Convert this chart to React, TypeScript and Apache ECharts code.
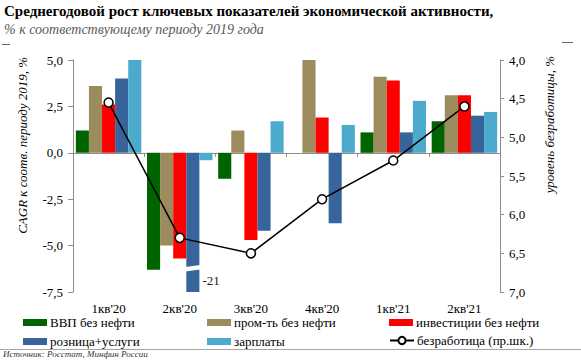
import React, { useEffect, useRef } from "react";
import * as echarts from "echarts";

// ---- data ----
const categories = ["1кв'20", "2кв'20", "3кв'20", "4кв'20", "1кв'21", "2кв'21"];
const gdpExOil = [1.2, -6.3, -1.4, null, 1.1, 1.7];
const industryExOil = [3.6, -5.0, 1.2, 5.0, 4.1, 3.1];
const investmentExOil = [2.6, -5.7, -4.7, 1.9, 3.9, 3.1];
const retailServices = [4.0, -21, -4.2, -3.8, 1.1, 2.0];
const wages = [5.0, -0.4, 1.7, 1.5, 2.8, 2.2];
const unemployment = [4.55, 6.3, 6.5, 5.8, 5.3, 4.6];

const seriesNames = [
  "ВВП без нефти",
  "пром-ть без нефти",
  "инвестиции без нефти",
  "розница+услуги",
  "зарплаты",
  "безработица (пр.шк.)",
];
const leftTicks = { min: -7.5, max: 5, interval: 2.5 };
const rightTicks = { min: 4, max: 7, interval: 0.5 };

const COLORS = ["#006400", "#9b8b5d", "#ff0000", "#37649a", "#4cabcd"];
const SERIF = '"Liberation Serif", "Times New Roman", serif';

const fmt = (v: number) => v.toFixed(1).replace(".", ",");

export default function App() {
  const ref = useRef<HTMLDivElement>(null);
  useEffect(() => {
    document.body.style.margin = "0";
    if (!ref.current) return;
    const chart = echarts.init(ref.current, undefined, { renderer: "svg" });

    const barSeriesData = [gdpExOil, industryExOil, investmentExOil, retailServices, wages];
    const retailIdx = 3;
    // values below the axis minimum are drawn as broken bars with their value as a label
    const breakData = retailServices
      .map((v, i) => (v !== null && v < leftTicks.min ? [i, v] : null))
      .filter((d) => d !== null);
    const BREAK_AT = -6.05;
    const LABEL_AT = -6.9;

    const legendPos = [
      { left: 23, top: 316 },
      { left: 207, top: 316 },
      { left: 389, top: 316 },
      { left: 23, top: 335 },
      { left: 207, top: 335 },
      { left: 389, top: 334 },
    ];

    chart.setOption({
      animation: false,
      textStyle: { fontFamily: SERIF },
      title: {
        text: "Среднегодовой рост ключевых показателей экономической активности,",
        subtext: "% к соответствующему периоду 2019 года",
        left: 4,
        top: 3,
        padding: 0,
        itemGap: 4,
        textStyle: { fontFamily: SERIF, fontWeight: "bold", fontSize: 15, color: "#000" },
        subtextStyle: { fontFamily: SERIF, fontStyle: "italic", fontSize: 14, color: "#595959" },
      },
      grid: { left: 73, right: 81, top: 60, bottom: 68, containLabel: false },
      xAxis: [
        {
          type: "category",
          data: categories,
          position: "bottom",
          axisLine: { onZero: true, onZeroAxisIndex: 0, lineStyle: { color: "#8c8c8c", width: 1 } },
          axisTick: { show: true, length: 4, lineStyle: { color: "#8c8c8c" } },
          axisLabel: { show: false },
          splitLine: { show: false },
        },
        {
          type: "category",
          data: categories,
          position: "bottom",
          axisLine: { show: false, onZero: false },
          axisTick: { show: false },
          axisLabel: { show: true, margin: 10, fontSize: 13, color: "#000", fontFamily: SERIF },
          splitLine: { show: false },
        },
      ],
      yAxis: [
        {
          type: "value",
          min: leftTicks.min,
          max: leftTicks.max,
          interval: leftTicks.interval,
          position: "left",
          axisLine: { show: true, lineStyle: { color: "#8c8c8c" } },
          axisTick: { show: true, length: 5, lineStyle: { color: "#8c8c8c" } },
          axisLabel: { formatter: fmt, margin: 10, fontSize: 13, color: "#000", fontFamily: SERIF },
          splitLine: { show: false },
        },
        {
          type: "value",
          min: rightTicks.min,
          max: rightTicks.max,
          interval: rightTicks.interval,
          inverse: true,
          position: "right",
          axisLine: { show: true, lineStyle: { color: "#8c8c8c" } },
          axisTick: { show: true, length: 4, lineStyle: { color: "#8c8c8c" } },
          axisLabel: { formatter: fmt, margin: 9, fontSize: 13, color: "#000", fontFamily: SERIF },
          splitLine: { show: false },
        },
      ],
      legend: seriesNames.map((name, i) => ({
        data: [i < 5 ? { name, icon: "rect" } : { name }],
        left: legendPos[i].left,
        top: legendPos[i].top,
        padding: 0,
        itemGap: 0,
        itemWidth: 24,
        itemHeight: i < 5 ? 7 : 9,
        selectedMode: false,
        textStyle: { fontFamily: SERIF, fontSize: 13, color: "#000", padding: [0, 0, 0, -2] },
      })),
      series: [
        ...barSeriesData.map((d, i) => ({
          name: seriesNames[i],
          type: "bar",
          data: d,
          xAxisIndex: 0,
          yAxisIndex: 0,
          barGap: "0%",
          barCategoryGap: "8%",
          itemStyle: { color: COLORS[i] },
          clip: true,
          z: 2,
        })),
        {
          name: seriesNames[5],
          type: "line",
          data: unemployment,
          xAxisIndex: 0,
          yAxisIndex: 1,
          symbol: "circle",
          symbolSize: 9,
          lineStyle: { color: "#000", width: 1.5 },
          itemStyle: { color: "#fff", borderColor: "#000", borderWidth: 1.5 },
          z: 5,
        },
        {
          type: "custom",
          xAxisIndex: 0,
          yAxisIndex: 0,
          data: breakData,
          z: 4,
          clip: false,
          renderItem: (params: any, api: any) => {
            const idx = api.value(0);
            const val = api.value(1);
            const catW = api.size([1, 0])[0];
            const barW = (catW * 0.92) / 5;
            const p = api.coord([idx, BREAK_AT]);
            const lp = api.coord([idx, LABEL_AT]);
            const cx = p[0] + (retailIdx - 2) * barW;
            const l = cx - barW / 2 - 1;
            const r = cx + barW / 2 + 1;
            return {
              type: "group",
              children: [
                {
                  type: "polygon",
                  shape: { points: [[l, p[1] + 2], [r, p[1]], [r, p[1] + 4.5], [l, p[1] + 6.5]] },
                  style: { fill: "#fff" },
                },
                {
                  type: "text",
                  x: r + 2,
                  y: lp[1],
                  style: {
                    text: String(val),
                    fill: "#222",
                    fontFamily: SERIF,
                    fontSize: 13,
                    align: "left",
                    verticalAlign: "middle",
                  },
                },
              ],
            };
          },
        },
      ],
      graphic: [
        {
          type: "text",
          x: 22,
          y: 57,
          rotation: Math.PI / 2,
          style: {
            text: "CAGR к соотв. периоду 2019, %",
            fill: "#000",
            fontFamily: SERIF,
            fontStyle: "italic",
            fontSize: 13,
            align: "right",
            verticalAlign: "middle",
          },
        },
        {
          type: "text",
          x: 549,
          y: 56,
          rotation: Math.PI / 2,
          style: {
            text: "уровень безработицы, %",
            fill: "#000",
            fontFamily: SERIF,
            fontStyle: "italic",
            fontSize: 13,
            align: "right",
            verticalAlign: "middle",
          },
        },
        {
          type: "line",
          shape: { x1: 0, y1: 349.5, x2: 581, y2: 349.5 },
          style: { stroke: "#a6a6a6", lineWidth: 1 },
        },
        {
          type: "text",
          x: 3,
          y: 354,
          style: {
            text: "Источник: Росстат, Минфин России",
            fill: "#333",
            fontFamily: SERIF,
            fontStyle: "italic",
            fontSize: 9,
            align: "left",
            verticalAlign: "middle",
          },
        },
        { type: "line", shape: { x1: 2, y1: 44.5, x2: 10, y2: 44.5 }, style: { stroke: "#666", lineWidth: 1 } },
        { type: "line", shape: { x1: 562, y1: 42.5, x2: 573, y2: 42.5 }, style: { stroke: "#666", lineWidth: 1 } },
      ],
    });
    return () => chart.dispose();
  }, []);
  return <div ref={ref} style={{ width: 581, height: 360 }} />;
}
